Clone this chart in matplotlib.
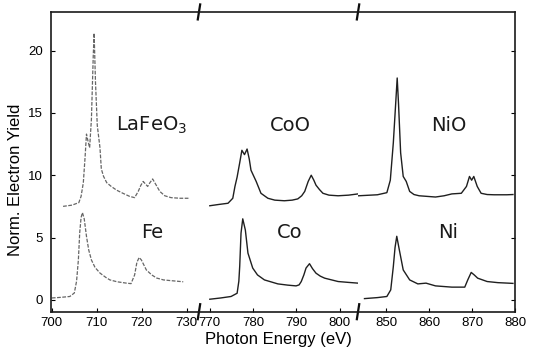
import matplotlib
matplotlib.use('Agg')
import matplotlib.pyplot as plt

# Fe L-edge spectra (metal and oxide, oxide offset upwards)
fe_x = [700.0, 702.0, 704.0, 705.0, 705.5, 705.9, 706.2, 706.5, 706.8, 707.2, 707.7, 708.2,
        708.8, 709.6, 710.7, 712.0, 712.9, 714.5, 716.6, 717.6, 718.4, 718.9, 719.4, 719.9,
        721.0, 722.2, 723.3, 724.8, 726.2, 729.2]
fe_y = [0.15, 0.2, 0.27, 0.55, 1.5, 3.2, 5.4, 6.6, 7.0, 6.5, 5.1, 4.0,
        3.2, 2.6, 2.15, 1.8, 1.6, 1.45, 1.34, 1.3, 2.0, 3.0, 3.4, 3.2,
        2.4, 2.0, 1.75, 1.6, 1.55, 1.45]

lafeo3_x = [702.5, 704.5, 706.0, 706.5, 707.0, 707.4, 707.7, 708.0, 708.4, 708.8, 709.0, 709.2,
            709.4, 709.7, 710.1, 710.7, 711.0, 711.5, 712.2, 713.2, 714.4, 715.8, 717.3, 718.4,
            719.2, 719.8, 720.3, 720.8, 721.3, 721.8, 722.4, 723.2, 724.0, 725.1, 726.5, 728.5,
            730.7]
lafeo3_y = [7.5, 7.6, 7.8, 8.3, 9.4, 11.5, 13.3, 12.8, 12.2, 14.5, 17.0, 19.5,
            21.4, 17.5, 14.0, 12.2, 10.5, 9.9, 9.4, 9.1, 8.8, 8.55, 8.3, 8.2,
            8.7, 9.2, 9.5, 9.3, 9.1, 9.4, 9.7, 9.2, 8.7, 8.35, 8.2, 8.15,
            8.15]

# Co L-edge
co_x = [770.0, 772.5, 774.9, 776.3, 776.7, 776.9, 777.2, 777.6, 778.2, 778.8, 779.9, 781.0,
        782.6, 785.7, 788.0, 789.9, 790.6, 791.1, 791.7, 792.2, 793.0, 793.7, 794.5, 795.5,
        796.5, 799.6, 802.0, 804.2]
co_y = [0.05, 0.15, 0.27, 0.53, 1.5, 2.7, 5.35, 6.5, 5.6, 3.75, 2.55, 2.0,
        1.6, 1.28, 1.18, 1.12, 1.2, 1.47, 2.0, 2.55, 2.9, 2.5, 2.14, 1.9,
        1.74, 1.47, 1.4, 1.34]

coo_x = [770.0, 772.0, 774.2, 775.3, 775.8, 776.3, 776.9, 777.4, 778.0, 778.6, 779.1, 779.5,
         780.7, 781.8, 783.4, 785.0, 787.2, 789.0, 790.3, 791.2, 791.9, 792.7, 793.4, 794.0,
         794.5, 795.3, 796.1, 797.5, 799.6, 802.0, 804.2]
coo_y = [7.55, 7.65, 7.75, 8.15, 9.1, 9.85, 11.0, 12.0, 11.65, 12.1, 11.3, 10.4,
         9.5, 8.55, 8.15, 8.0, 7.95, 8.0, 8.1, 8.35, 8.7, 9.5, 10.0, 9.6,
         9.2, 8.85, 8.55, 8.4, 8.35, 8.4, 8.5]

# Ni L-edge
ni_x = [845.0, 848.0, 850.2, 851.1, 851.7, 852.1, 852.5, 853.1, 854.0, 855.5, 857.4, 859.3,
        861.5, 865.3, 868.3, 869.0, 869.8, 870.5, 871.3, 873.5, 876.0, 878.4, 879.5]
ni_y = [0.1, 0.18, 0.27, 0.8, 2.67, 4.2, 5.1, 4.0, 2.4, 1.6, 1.28, 1.34,
        1.12, 1.02, 1.02, 1.6, 2.2, 2.0, 1.74, 1.47, 1.38, 1.34, 1.32]

nio_x = [843.6, 848.0, 850.2, 851.0, 851.7, 852.3, 852.6, 852.9, 853.4, 854.0, 854.7, 855.5,
         856.5, 857.7, 861.5, 863.5, 865.3, 867.5, 868.7, 869.4, 869.9, 870.4, 871.2, 872.1,
         873.5, 875.1, 878.1, 879.5]
nio_y = [8.35, 8.43, 8.6, 9.6, 12.6, 16.05, 17.8, 15.8, 11.8, 9.9, 9.5, 8.7,
         8.45, 8.35, 8.25, 8.35, 8.5, 8.55, 9.1, 9.9, 9.6, 9.9, 9.1, 8.55,
         8.45, 8.43, 8.43, 8.45]

seg_limits = [(699.8, 732.7), (767.5, 804.2), (843.5, 880.0)]
seg_ticks = [[700, 710, 720, 730], [770, 780, 790, 800], [850, 860, 870, 880]]
labels = [("LaFeO$_3$", "Fe"), ("CoO", "Co"), ("NiO", "Ni")]
label_x = [722.2, 788.5, 864.5]
label_y = (14.0, 5.4)

fe_style = dict(color='0.4', lw=0.9, ls=(0, (3, 1.2)))
co_style = dict(color='0.12', lw=1.0)

plt.rcParams['font.family'] = ['Liberation Sans', 'DejaVu Sans']

fig = plt.figure(figsize=(5.36, 3.51), dpi=100)
gs = fig.add_gridspec(1, 3, width_ratios=[148, 159, 157], wspace=0,
                      left=0.095, right=0.961, bottom=0.112, top=0.966)
axes = [fig.add_subplot(gs[0, i]) for i in range(3)]

axes[0].plot(fe_x, fe_y, **fe_style)
axes[0].plot(lafeo3_x, lafeo3_y, **fe_style)
axes[1].plot(co_x, co_y, **co_style)
axes[1].plot(coo_x, coo_y, **co_style)
axes[2].plot(ni_x, ni_y, **co_style)
axes[2].plot(nio_x, nio_y, **co_style)

for i, ax in enumerate(axes):
    ax.set_xlim(*seg_limits[i])
    ax.set_ylim(-0.95, 23.1)
    ax.set_xticks(seg_ticks[i])
    ax.tick_params(axis='x', direction='in', length=3, labelsize=9.5, pad=4)
    ax.tick_params(axis='y', direction='in', length=3, labelsize=9.5, pad=6)
    for s in ax.spines.values():
        s.set_linewidth(1.2)
        s.set_color('0.1')
    top, bottom = labels[i]
    ax.text(label_x[i], label_y[0], top, fontsize=14, ha='center', va='center',
            family='DejaVu Sans', color='0.1')
    ax.text(label_x[i], label_y[1], bottom, fontsize=14, ha='center', va='center',
            family='DejaVu Sans', color='0.1')
    if i > 0:
        ax.spines['left'].set_visible(False)
        ax.tick_params(axis='y', left=False, labelleft=False)
    if i < 2:
        ax.spines['right'].set_visible(False)
    else:
        ax.yaxis.set_ticks_position('right')
        ax.tick_params(axis='y', labelright=False)

axes[0].set_yticks([0, 5, 10, 15, 20])
axes[2].set_yticks([0, 5, 10, 15, 20])
axes[0].set_ylabel("Norm. Electron Yield", fontsize=12, labelpad=4)
axes[0].yaxis.set_label_coords(-0.19, 0.44)
axes[1].set_xlabel("Photon Energy (eV)", fontsize=12, labelpad=2)

# slanted break marks at the joins
d = 0.025
for ax in axes[1:]:
    kw = dict(transform=ax.transAxes, color='0.05', lw=1.6, clip_on=False)
    for yy in (0, 1):
        ax.plot([-d * 0.3, d * 0.3], [yy - d, yy + d], **kw)

fig.savefig('out.png', dpi=100)
